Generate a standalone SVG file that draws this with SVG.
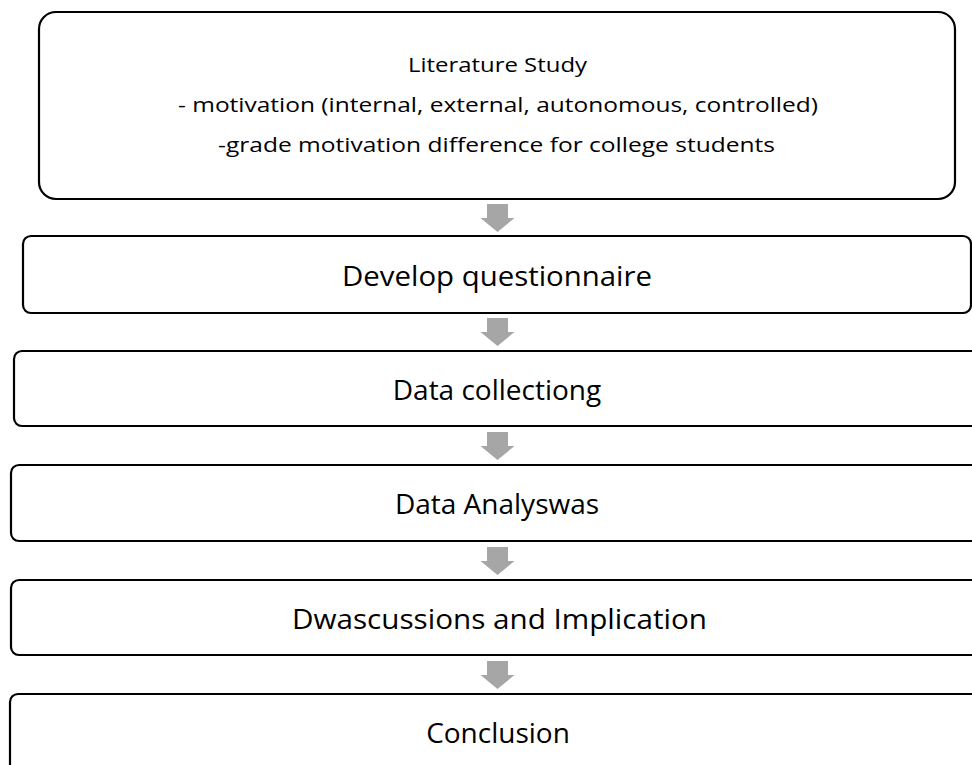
<svg xmlns="http://www.w3.org/2000/svg" width="972" height="765" viewBox="0 0 972 765">
<style>
.box{fill:#fff;stroke:#000;stroke-width:2.2}
text{font-family:"Open Sans","Noto Sans","Liberation Sans",sans-serif;fill:#000;text-anchor:middle;font-variant-ligatures:none}
.sm{font-size:20px}
.lg{font-size:28px}
.arr{fill:#a6a6a6}
</style>
<defs>
<path id="ar" d="M-10.5,0 H10.5 V14 H17 L0,28 L-17,14 H-10.5 Z"/>
</defs>
<rect width="972" height="765" fill="#fff"/>
<g id="connectors">
<use href="#ar" class="arr" x="497.5" y="204"/>
<use href="#ar" class="arr" x="497.5" y="318"/>
<use href="#ar" class="arr" x="497.5" y="432"/>
<use href="#ar" class="arr" x="497.5" y="547"/>
<use href="#ar" class="arr" x="497.5" y="661"/>
</g>
<g id="literature">
<rect class="box" x="39" y="12" width="916" height="187" rx="17"/>
<text class="sm" x="497.5" y="72" textLength="179" lengthAdjust="spacingAndGlyphs">Literature Study</text>
<text class="sm" x="498" y="112" textLength="640" lengthAdjust="spacingAndGlyphs">- motivation (internal, external, autonomous, controlled)</text>
<text class="sm" x="496.5" y="152" textLength="557" lengthAdjust="spacingAndGlyphs">-grade motivation difference  for college students</text>
</g>
<g id="develop">
<rect class="box" x="23" y="236" width="948" height="77" rx="8"/>
<text class="lg" x="497" y="286" textLength="310" lengthAdjust="spacingAndGlyphs">Develop questionnaire</text>
</g>
<g id="collect">
<rect class="box" x="14" y="351" width="990" height="75" rx="8"/>
<text class="lg" x="497" y="400">Data collectiong</text>
</g>
<g id="analysis">
<rect class="box" x="11" y="465" width="990" height="76" rx="8"/>
<text class="lg" x="497" y="514">Data Analyswas</text>
</g>
<g id="discussion">
<rect class="box" x="11" y="580" width="990" height="75" rx="8"/>
<text class="lg" x="499.5" y="629" textLength="415" lengthAdjust="spacingAndGlyphs">Dwascussions and Implication</text>
</g>
<g id="conclusion">
<rect class="box" x="10" y="694" width="990" height="90" rx="8"/>
<text class="lg" x="498" y="743">Conclusion</text>
</g>
</svg>
